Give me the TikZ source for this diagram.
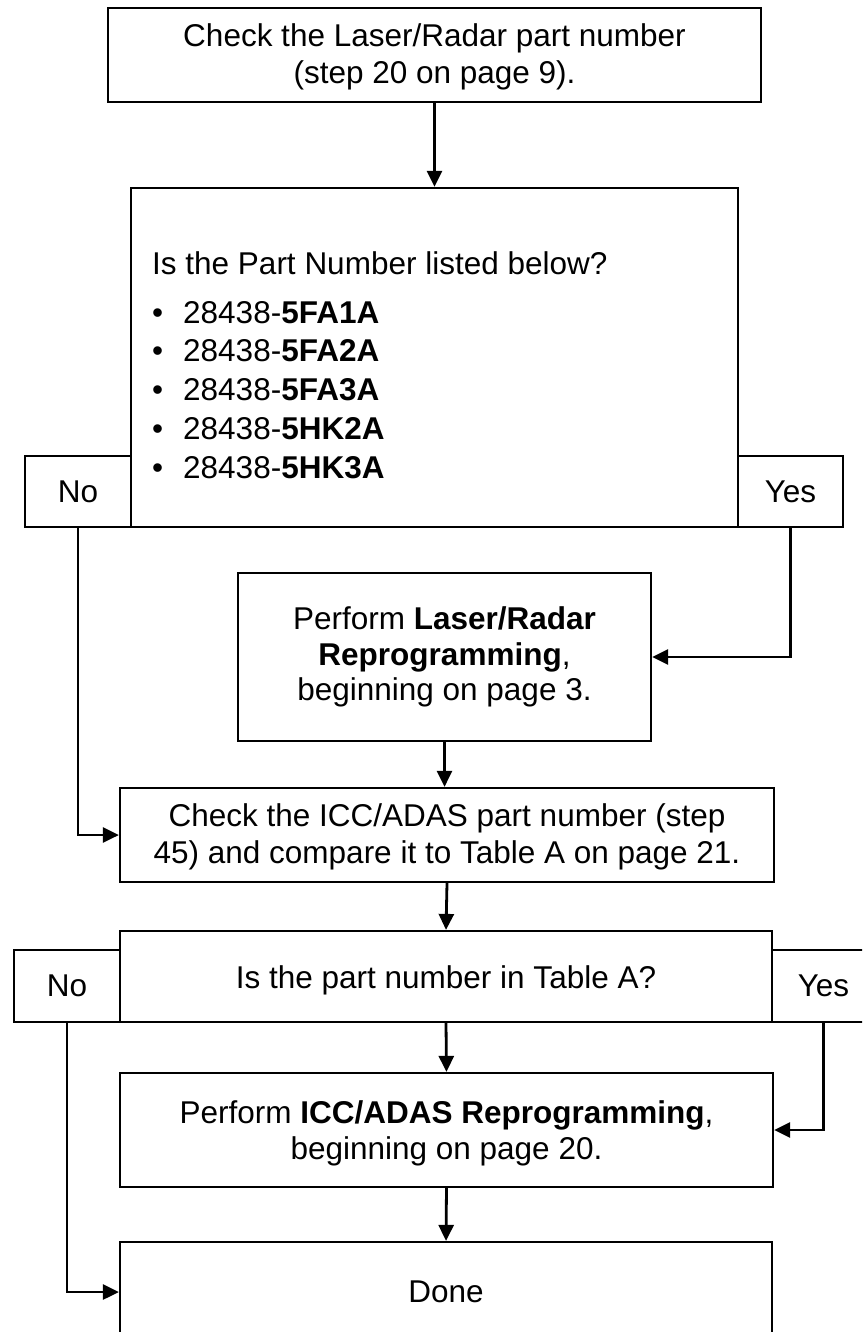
\documentclass[tikz,border=0pt]{standalone}
\usepackage{fontspec}
\setmainfont{Liberation Sans}
\usetikzlibrary{arrows.meta}
\tikzset{
  box/.style={draw, line width=2.2pt, inner sep=0pt, align=center,
    font=\fontsize{31.5}{36.5}\selectfont},
  lbl/.style={draw, line width=2.2pt, inner sep=0pt, align=center,
    font=\fontsize{31.5}{36.5}\selectfont},
  txt/.style={inner sep=0pt, align=left,
    font=\fontsize{31.5}{38.75}\selectfont},
  conn/.style={line width=2.8pt, -{Triangle[length=16pt,width=15pt]}}
}
\newcommand{\bul}{\makebox[31pt][l]{•}}
\begin{document}
\begin{tikzpicture}[x=1pt,y=-1pt]
\useasboundingbox (0,0) rectangle (862,1332);
\clip (0,0) rectangle (862,1332);
% boxes
\node[box, minimum width=653pt, minimum height=94pt] (b1) at (434.5,55)
  {\rule{0pt}{27pt}Check the Laser/Radar part number\\(step 20 on page 9).};
\node[box, minimum width=607pt, minimum height=339pt] (b2) at (434.5,357.5) {};
\node[txt, anchor=west] (q2) at (152,365)
  {Is the Part Number listed below?\\[10.25pt]
   \bul 28438-\textbf{5FA1A}\\
   \bul 28438-\textbf{5FA2A}\\
   \bul 28438-\textbf{5FA3A}\\
   \bul 28438-\textbf{5HK2A}\\
   \bul 28438-\textbf{5HK3A}};
\node[lbl, minimum width=106pt, minimum height=71pt] (no1) at (78,491.5) {No};
\node[lbl, minimum width=105pt, minimum height=71pt] (yes1) at (790.5,491.5) {Yes};
\node[box, minimum width=413pt, minimum height=168pt, font=\fontsize{31.5}{35.5}\selectfont] (b3) at (444.5,657)
  {Perform \textbf{Laser/Radar}\\\textbf{Reprogramming},\\beginning on page 3.};
\node[box, minimum width=654pt, minimum height=94pt] (b4) at (447,835)
  {\rule{0pt}{27pt}Check the ICC/ADAS part number (step\\45) and compare it to Table A on page 21.};
\node[box, minimum width=652pt, minimum height=91pt] (b5) at (446,976.5)
  {\rule{0pt}{30pt}Is the part number in Table A?};
\node[lbl, minimum width=106pt, minimum height=72pt] (no2) at (67,986) {No};
\node[lbl, minimum width=103pt, minimum height=72pt] (yes2) at (823.5,986) {Yes};
\node[box, minimum width=653pt, minimum height=114pt] (b6) at (446.5,1130)
  {\rule{0pt}{30pt}Perform \textbf{ICC/ADAS Reprogramming},\\beginning on page 20.};
\node[box, minimum width=652pt, minimum height=100pt] (done) at (446,1292) {Done};
% connectors
\draw[conn] (b1.south) -- (b2.north);
\draw[conn] (yes1.south) |- (b3.east);
\draw[conn] (no1.south) |- (b4.west);
\draw[conn] (b3.south) -- (b3.south |- b4.north);
\draw[conn] (b4.south) -- (b5.north);
\draw[conn] (b5.south) -- (b6.north);
\draw[conn] (yes2.south) |- (b6.east);
\draw[conn] (b6.south) -- (done.north);
\draw[conn] (no2.south) |- (done.west);
\end{tikzpicture}
\end{document}
